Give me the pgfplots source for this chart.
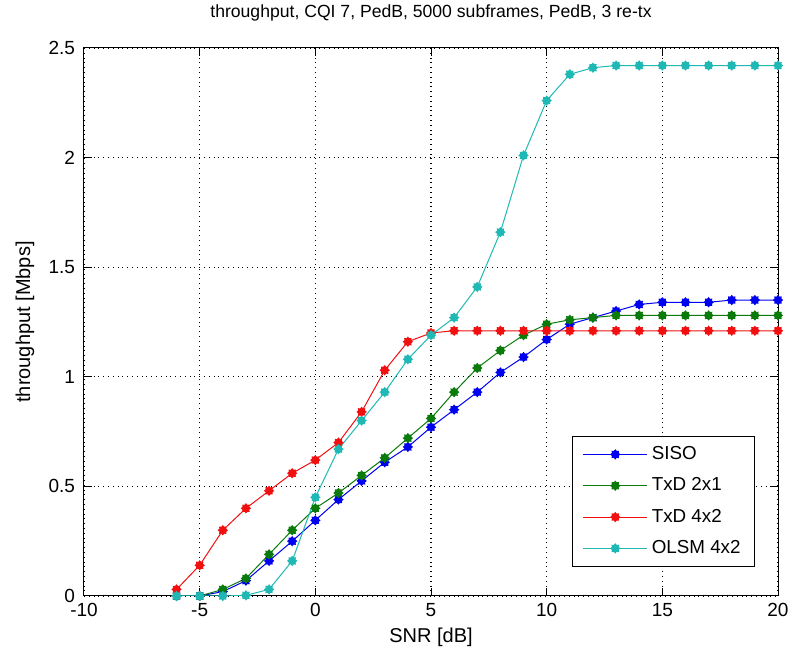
\documentclass[border=0pt]{standalone}
\usepackage{fontspec}
\setmainfont{Liberation Sans}
\usepackage{pgfplots}
\pgfplotsset{compat=1.18}

\definecolor{mBlue}{HTML}{0000F0}
\definecolor{mGreen}{HTML}{0A7A0A}
\definecolor{mRed}{HTML}{F01010}
\definecolor{mCyan}{HTML}{20B8B4}

% spiky filled marker, like the MATLAB hexagram look
\pgfdeclareplotmark{spk}{%
  \pgfpathmoveto{\pgfpointpolar{0}{\pgfplotmarksize}}%
  \pgfpathlineto{\pgfpointpolar{22.5}{0.72\pgfplotmarksize}}%
  \pgfpathlineto{\pgfpointpolar{45}{\pgfplotmarksize}}%
  \pgfpathlineto{\pgfpointpolar{67.5}{0.72\pgfplotmarksize}}%
  \pgfpathlineto{\pgfpointpolar{90}{\pgfplotmarksize}}%
  \pgfpathlineto{\pgfpointpolar{112.5}{0.72\pgfplotmarksize}}%
  \pgfpathlineto{\pgfpointpolar{135}{\pgfplotmarksize}}%
  \pgfpathlineto{\pgfpointpolar{157.5}{0.72\pgfplotmarksize}}%
  \pgfpathlineto{\pgfpointpolar{180}{\pgfplotmarksize}}%
  \pgfpathlineto{\pgfpointpolar{202.5}{0.72\pgfplotmarksize}}%
  \pgfpathlineto{\pgfpointpolar{225}{\pgfplotmarksize}}%
  \pgfpathlineto{\pgfpointpolar{247.5}{0.72\pgfplotmarksize}}%
  \pgfpathlineto{\pgfpointpolar{270}{\pgfplotmarksize}}%
  \pgfpathlineto{\pgfpointpolar{292.5}{0.72\pgfplotmarksize}}%
  \pgfpathlineto{\pgfpointpolar{315}{\pgfplotmarksize}}%
  \pgfpathlineto{\pgfpointpolar{337.5}{0.72\pgfplotmarksize}}%
  \pgfpathclose
  \pgfusepathqfill}

\begin{document}
\begin{tikzpicture}
\begin{axis}[
  scale only axis,
  width=347pt, height=274pt,
  xmin=-10, xmax=20, ymin=0, ymax=2.5,
  xtick={-10,-5,0,5,10,15,20},
  ytick={0,0.5,1,1.5,2,2.5},
  yticklabels={0,0.5,1,1.5,2,2.5},
  /pgf/number format/assume math mode=true,
  tick label style={font=\fontsize{9.5}{11}\selectfont},
  yticklabel style={xshift=-1pt},
  label style={font=\fontsize{10}{12}\selectfont},
  title style={font=\fontsize{8.8}{10}\selectfont, at={(axis description cs:0.5,1.042)}, anchor=center},
  title={throughput, CQI 7, PedB, 5000 subframes, PedB, 3 re-tx},
  xlabel={SNR [dB]},
  ylabel={throughput [Mbps]},
  xlabel style={at={(axis description cs:0.5,-0.075)}, anchor=center},
  ylabel style={at={(axis description cs:-0.085,0.5)}, anchor=center},
  tick align=inside,
  major tick length=4pt,
  tick style={black, line width=0.5pt},
  axis line style={black, line width=0.5pt},
  grid=major,
  major grid style={black, dotted, line width=0.6pt},
  every axis plot/.append style={line width=0.5pt, mark=spk, mark size=2.6pt},
  legend style={at={(0.967,0.053)}, anchor=south east, draw=black,
    line width=0.5pt, font=\fontsize{9.4}{11}\selectfont,
    row sep=3.6pt, inner xsep=5pt, inner ysep=3pt},
  legend cell align=left,
  legend image code/.code={\draw[mark repeat=2,mark phase=2] plot coordinates {(0pt,0pt) (16pt,0pt) (32pt,0pt)};},
]
\addplot[color=mBlue] coordinates {
  (-6,0) (-5,0) (-4,0.02) (-3,0.07) (-2,0.16) (-1,0.25) (0,0.345) (1,0.44)
  (2,0.525) (3,0.61) (4,0.68) (5,0.77) (6,0.85) (7,0.93) (8,1.02) (9,1.09)
  (10,1.17) (11,1.24) (12,1.27) (13,1.30) (14,1.33) (15,1.34) (16,1.34)
  (17,1.34) (18,1.35) (19,1.35) (20,1.35)
};
\addlegendentry{SISO}
\addplot[color=mGreen] coordinates {
  (-6,0) (-5,0) (-4,0.03) (-3,0.08) (-2,0.19) (-1,0.30) (0,0.40) (1,0.47)
  (2,0.55) (3,0.63) (4,0.72) (5,0.81) (6,0.93) (7,1.04) (8,1.12) (9,1.19)
  (10,1.24) (11,1.26) (12,1.27) (13,1.28) (14,1.28) (15,1.28) (16,1.28)
  (17,1.28) (18,1.28) (19,1.28) (20,1.28)
};
\addlegendentry{TxD 2x1}
\addplot[color=mRed] coordinates {
  (-6,0.03) (-5,0.14) (-4,0.30) (-3,0.40) (-2,0.48) (-1,0.56) (0,0.62) (1,0.70)
  (2,0.84) (3,1.03) (4,1.16) (5,1.20) (6,1.21) (7,1.21) (8,1.21) (9,1.21)
  (10,1.21) (11,1.21) (12,1.21) (13,1.21) (14,1.21) (15,1.21) (16,1.21)
  (17,1.21) (18,1.21) (19,1.21) (20,1.21)
};
\addlegendentry{TxD 4x2}
\addplot[color=mCyan] coordinates {
  (-6,0) (-5,0) (-4,0) (-3,0.003) (-2,0.03) (-1,0.16) (0,0.45) (1,0.67)
  (2,0.80) (3,0.93) (4,1.08) (5,1.19) (6,1.27) (7,1.41) (8,1.66) (9,2.01)
  (10,2.26) (11,2.38) (12,2.41) (13,2.42) (14,2.42) (15,2.42) (16,2.42)
  (17,2.42) (18,2.42) (19,2.42) (20,2.42)
};
\addlegendentry{OLSM 4x2}
\end{axis}
% page cut like the reference: 42pt left, 5pt right, 24pt top, 28pt bottom
\pgfresetboundingbox
\path ([shift={(-42pt,-28pt)}]current axis.south west)
  rectangle ([shift={(5pt,24pt)}]current axis.north east);
\end{tikzpicture}
\end{document}
